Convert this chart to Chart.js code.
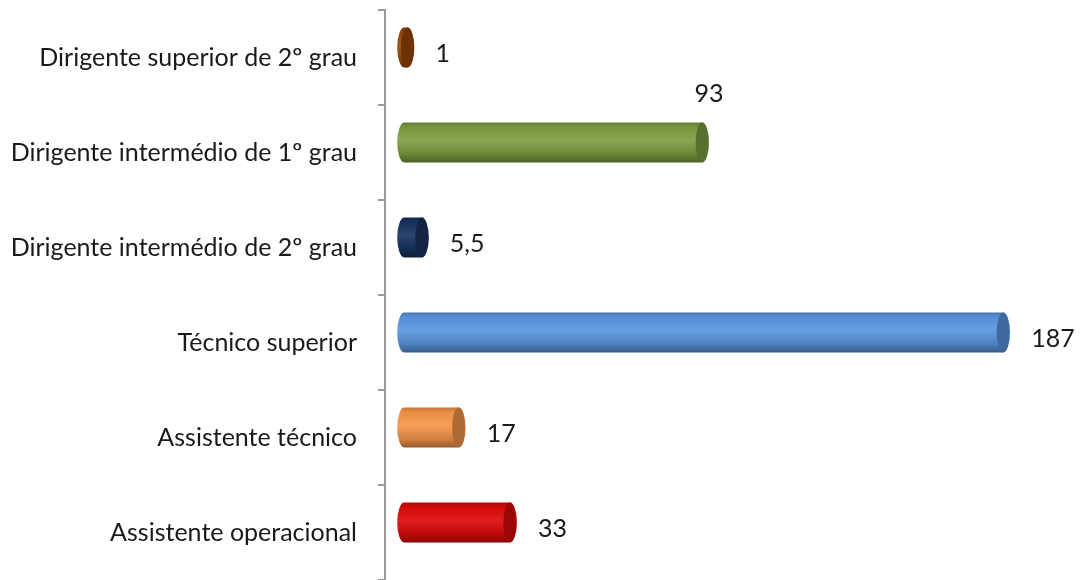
<!DOCTYPE html>
<html>
<head>
<meta charset="utf-8">
<script src="https://cdn.jsdelivr.net/npm/chart.js@4"></script>
<style>
    html, body { margin: 0; padding: 0; background: #fff; }
    #wrap { width: 1080px; height: 580px; }
</style>
</head>
<body>
<div id="wrap"><canvas id="myChart" width="1080" height="580"></canvas></div>
<script>
    const categories = [
        'Dirigente superior de 2º grau',
        'Dirigente intermédio de 1º grau',
        'Dirigente intermédio de 2º grau',
        'Técnico superior',
        'Assistente técnico',
        'Assistente operacional'
    ];
    const values = [1, 93, 5.5, 187, 17, 33];
    const valueLabels = ['1', '93', '5,5', '187', '17', '33'];
    const barColors = ['#9a4708', '#7f9e40', '#183460', '#5a96e0', '#f5964a', '#dd0a0a'];

    function shade(hex, f) {
        let r = parseInt(hex.substr(1, 2), 16), g = parseInt(hex.substr(3, 2), 16), b = parseInt(hex.substr(5, 2), 16);
        if (f > 1) {
            r = r + (255 - r) * (f - 1); g = g + (255 - g) * (f - 1); b = b + (255 - b) * (f - 1);
        } else {
            r *= f; g *= f; b *= f;
        }
        return 'rgb(' + Math.round(r) + ',' + Math.round(g) + ',' + Math.round(b) + ')';
    }

    // draws each bar as a cylinder, using the bar elements positioned by the scales
    const cylinderPlugin = {
        id: 'cylinders',
        afterDatasetsDraw: function (chart) {
            const ctx = chart.ctx;
            const meta = chart.getDatasetMeta(0);
            ctx.save();
            meta.data.forEach(function (bar, i) {
                const x0 = bar.base, x1 = bar.x;
                const h = bar.height;
                const yc = bar.y - 10;
                const top = yc - h / 2, bottom = yc + h / 2;
                const rx = 7, ry = h / 2;
                const col = barColors[i];

                let grad = ctx.createLinearGradient(0, top, 0, bottom);
                grad.addColorStop(0, shade(col, 0.8));
                grad.addColorStop(0.12, shade(col, 0.95));
                grad.addColorStop(0.45, shade(col, 1.08));
                grad.addColorStop(0.8, shade(col, 0.85));
                grad.addColorStop(1, shade(col, 0.6));

                ctx.beginPath();
                ctx.moveTo(x0, top);
                ctx.lineTo(x1, top);
                ctx.ellipse(x1, yc, rx, ry, 0, -Math.PI / 2, Math.PI / 2);
                ctx.lineTo(x0, bottom);
                ctx.ellipse(x0, yc, rx, ry, 0, Math.PI / 2, Math.PI * 1.5);
                ctx.closePath();
                ctx.fillStyle = grad;
                ctx.fill();

                ctx.beginPath();
                ctx.ellipse(x1, yc, rx - 0.5, ry, 0, 0, Math.PI * 2);
                ctx.fillStyle = shade(col, 0.7);
                ctx.fill();

                ctx.fillStyle = '#1a1a1a';
                ctx.font = '25px Lato, "Open Sans", sans-serif';
                ctx.textBaseline = 'middle';
                if (i === 1) {
                    ctx.textAlign = 'center';
                    ctx.fillText(valueLabels[i], x1 + rx, top - 29);
                } else {
                    ctx.textAlign = 'left';
                    ctx.fillText(valueLabels[i], x1 + rx + 21, yc + 6);
                }
            });
            ctx.restore();
        }
    };

    let ctx = document.getElementById('myChart');
    let myChart = new Chart(ctx, {
        type: 'bar',
        data: {
            labels: categories,
            datasets: [{
                data: values,
                backgroundColor: 'rgba(0,0,0,0)',
                borderWidth: 0,
                categoryPercentage: 1,
                barPercentage: 0.42
            }]
        },
        options: {
            indexAxis: 'y',
            responsive: false,
            animation: false,
            layout: {padding: {top: 10, bottom: 0, left: 0, right: 0}},
            plugins: {
                legend: {display: false},
                tooltip: {enabled: false}
            },
            scales: {
                x: {
                    display: false,
                    min: -6,
                    max: 211
                },
                y: {
                    afterFit: function (scale) {
                        scale.width = 385;
                        scale.paddingTop = 0;
                        scale.paddingBottom = 0;
                    },
                    grid: {
                        drawOnChartArea: false,
                        offset: true,
                        tickLength: 7,
                        color: '#999999',
                        lineWidth: 2
                    },
                    border: {color: '#999999', width: 2},
                    ticks: {
                        color: '#1a1a1a',
                        padding: 21,
                        font: {family: 'Lato, "Open Sans", sans-serif', size: 25}
                    }
                }
            }
        },
        plugins: [cylinderPlugin]
    });
</script>
</body>
</html>
